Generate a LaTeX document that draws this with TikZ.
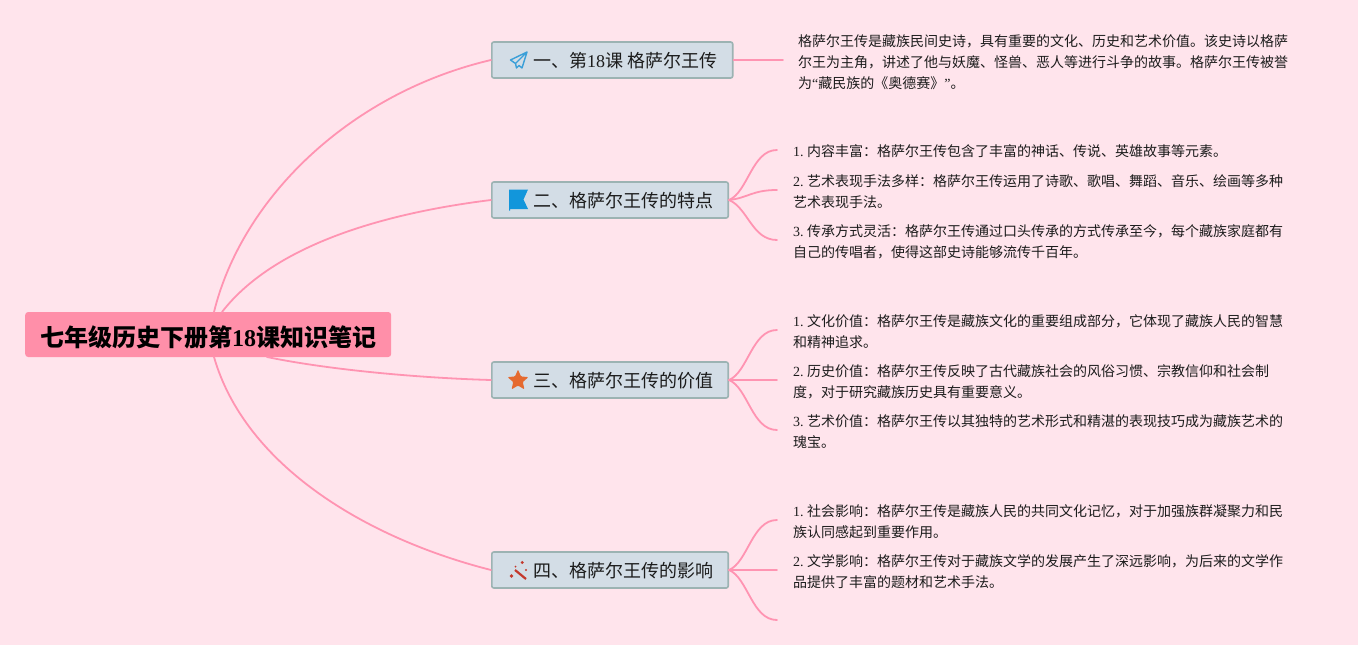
\documentclass[tikz,border=0pt]{standalone}
\usepackage{fontspec}
\setmainfont{Noto Sans CJK SC}
\newfontfamily\serifnum{Liberation Serif}
\newcommand{\lat}[1]{{\serifnum #1}}
\newcommand{\itemnum}[1]{\lat{#1.}\hspace{3.5pt}}
\usetikzlibrary{shapes.geometric}
\definecolor{bgpink}{HTML}{FFE4EC}
\definecolor{rootpink}{HTML}{FF8FA9}
\definecolor{linepink}{HTML}{FF94B2}
\definecolor{boxfill}{HTML}{D3DDE6}
\definecolor{boxline}{HTML}{9CB3B3}
\definecolor{textdark}{HTML}{1C1C1C}
\definecolor{planeblue}{HTML}{3A9FD8}
\definecolor{flagblue}{HTML}{1296DB}
\definecolor{starorange}{HTML}{E56A30}
\definecolor{wandred}{HTML}{C4382C}
\tikzset{
  rootbox/.style={fill=rootpink,rounded corners=3pt,minimum height=45pt,inner xsep=15pt,inner ysep=0pt,anchor=west,text height=25.8pt,text depth=2pt,font=\fontsize{24}{28}\selectfont\bfseries},
  branchbox/.style={draw=boxline,line width=1.6pt,fill=boxfill,rounded corners=2pt,minimum height=36pt,inner xsep=15.2pt,inner ysep=0pt,anchor=west,text=textdark,text height=17.7pt,text depth=2pt,font=\fontsize{18}{22}\selectfont},
  leaftext/.style={align=left,anchor=west,inner xsep=16pt,inner ysep=0pt,text=textdark,font=\fontsize{14}{21}\selectfont},
  conn/.style={draw=linepink,line width=1.8pt,line cap=round},
}
\begin{document}
\begin{tikzpicture}[x=1pt,y=-1pt]
        \useasboundingbox (0,0) rectangle (1358,645);
        \fill[bgpink] (0,0) rectangle (1358,645);
        % main nodes
        \node[rootbox] (root) at (25,334.5) {七年级历史下册第\lat{18}课知识笔记};
        \node[branchbox] (ba) at (491,60) {\hspace*{26pt}一、第\lat{18}课\lat{ }格萨尔王传};
        \node[branchbox] (bb) at (491,200) {\hspace*{26pt}二、格萨尔王传的特点};
        \node[branchbox] (bc) at (491,380) {\hspace*{26pt}三、格萨尔王传的价值};
        \node[branchbox] (bd) at (491,570) {\hspace*{26pt}四、格萨尔王传的影响};
        % leaves
        \node[leaftext,inner xsep=15pt] (la) at (783,62.5) {格萨尔王传是藏族民间史诗，具有重要的文化、历史和艺术价值。该史诗以格萨\\尔王为主角，讲述了他与妖魔、怪兽、恶人等进行斗争的故事。格萨尔王传被誉\\为\lat{“}藏民族的《奥德赛》\lat{”}。};
        \node[leaftext] (lb1) at (777,151) {\itemnum{1}内容丰富：格萨尔王传包含了丰富的神话、传说、英雄故事等元素。};
        \node[leaftext] (lb2) at (777,192) {\itemnum{2}艺术表现手法多样：格萨尔王传运用了诗歌、歌唱、舞蹈、音乐、绘画等多种\\艺术表现手法。};
        \node[leaftext] (lb3) at (777,242) {\itemnum{3}传承方式灵活：格萨尔王传通过口头传承的方式传承至今，每个藏族家庭都有\\自己的传唱者，使得这部史诗能够流传千百年。};
        \node[leaftext] (lc1) at (777,332) {\itemnum{1}文化价值：格萨尔王传是藏族文化的重要组成部分，它体现了藏族人民的智慧\\和精神追求。};
        \node[leaftext] (lc2) at (777,382) {\itemnum{2}历史价值：格萨尔王传反映了古代藏族社会的风俗习惯、宗教信仰和社会制\\度，对于研究藏族历史具有重要意义。};
        \node[leaftext] (lc3) at (777,432) {\itemnum{3}艺术价值：格萨尔王传以其独特的艺术形式和精湛的表现技巧成为藏族艺术的\\瑰宝。};
        \node[leaftext] (ld1) at (777,522) {\itemnum{1}社会影响：格萨尔王传是藏族人民的共同文化记忆，对于加强族群凝聚力和民\\族认同感起到重要作用。};
        \node[leaftext] (ld2) at (777,572) {\itemnum{2}文学影响：格萨尔王传对于藏族文学的发展产生了深远影响，为后来的文学作\\品提供了丰富的题材和艺术手法。};
        \coordinate (ld3) at (777,620);
        % root connectors
        \coordinate (rootta) at (214,312);
        \coordinate (roottb) at (222,312);
        \coordinate (rootbc) at (267,357);
        \coordinate (rootbd) at (214,357);
        \draw[conn] (rootta) .. controls (242,198) and (350,93) .. (ba.west);
        \draw[conn] (roottb) .. controls (270,250) and (370,215) .. (bb.west);
        \draw[conn] (rootbc) .. controls (330,370) and (420,378) .. (bc.west);
        \draw[conn] (rootbd) .. controls (245,465) and (365,538) .. (bd.west);
        % leaf connectors
        \draw[conn] (ba.east) -- ([yshift=2.5pt]la.west);
        \foreach \leaf/\dy/\off in {lb1/-8/1,lb2/-2/2,lb3/8/2} \draw[conn] (bb.east) .. controls +(19,\dy) and +(-25,0) .. ([yshift=\off pt]\leaf.west);
        \foreach \leaf/\dy/\off in {lc1/-8/2,lc2/0/2,lc3/8/2} \draw[conn] (bc.east) .. controls +(19,\dy) and +(-25,0) .. ([yshift=\off pt]\leaf.west);
        \foreach \leaf/\dy/\off in {ld1/-8/2,ld2/0/2,ld3/8/0} \draw[conn] (bd.east) .. controls +(19,\dy) and +(-25,0) .. ([yshift=\off pt]\leaf.west);
        % icons
        \draw[color=planeblue,line width=1.4pt,line join=round] (527,52)--(510.5,60)--(515.5,63.5)--(516.5,68)--(519,65.5)--(522,68)--cycle (515.5,63.5)--(527,52);
        \fill[color=flagblue] (509,189.5)--(528,189.5)--(523.5,199.5)--(528,209)--(510,209)--(510,210.5)--(509,210.5)--cycle;
        \node[star,star points=5,star point ratio=2.2,fill=starorange,minimum size=22pt,inner sep=0pt,rounded corners=1pt] (staricon) at (518,380.5) {};
        \draw[color=wandred,line width=2.2pt] (515,570)--(526,579);
        \fill[color=wandred] (522.3,562.5) circle (1.6pt) (511.5,576) circle (1.8pt) (526,570) circle (1.1pt) (515.5,566.5) circle (1pt);
\end{tikzpicture}
\end{document}
